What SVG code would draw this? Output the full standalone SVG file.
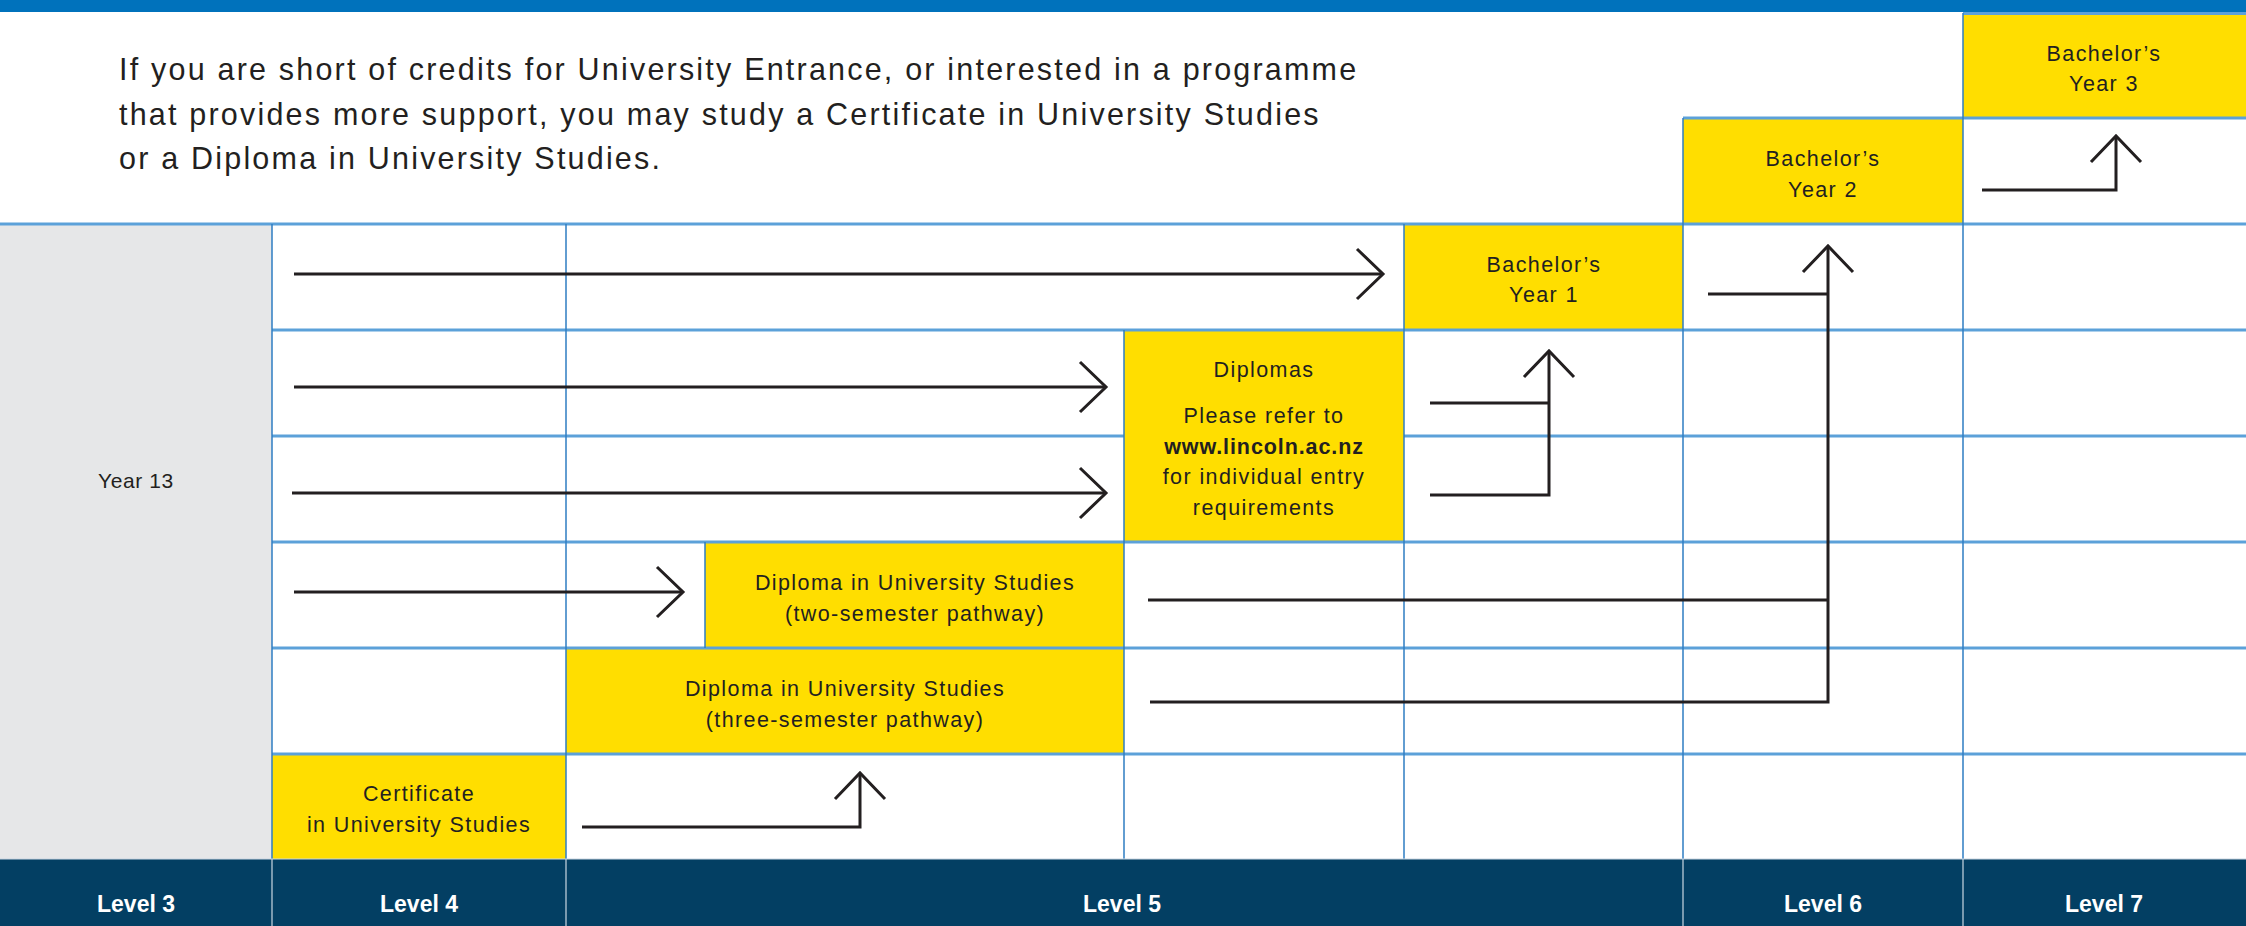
<svg xmlns="http://www.w3.org/2000/svg" width="2246" height="926" viewBox="0 0 2246 926">
<style>
.box{fill:#FFDE00}
.t{font-family:"Liberation Sans",Arial,sans-serif;font-size:21.5px;letter-spacing:1.4px;fill:#231F20;text-anchor:middle}
.b{font-weight:bold;letter-spacing:0.9px}
.intro{font-family:"Liberation Sans",Arial,sans-serif;font-size:30.5px;letter-spacing:2.2px;fill:#231F20}
.foot{font-family:"Liberation Sans",Arial,sans-serif;font-size:23px;font-weight:bold;fill:#FFFFFF;text-anchor:middle}
.hl{stroke:#5CA1D9;stroke-width:3;fill:none}
.vl{stroke:#2F7EC2;stroke-width:1.5;fill:none}
.fl{stroke:#C9D6E2;stroke-width:1.2;fill:none}
.c{stroke:#231F20;stroke-width:3;fill:none;marker-end:url(#chev)}
.cn{stroke:#231F20;stroke-width:3;fill:none}
</style>
<defs>
<marker id="chev" markerUnits="userSpaceOnUse" viewBox="-30 -30 60 60" markerWidth="60" markerHeight="60" refX="0" refY="0" orient="auto" overflow="visible">
<path d="M-26,-25 L0,0 L-26,25" fill="none" stroke="#231F20" stroke-width="3"/>
</marker>
</defs>
<rect x="0" y="0" width="2246" height="926" fill="#FFFFFF"/>
<rect x="0" y="0" width="2246" height="12" fill="#0072BC"/>
<rect x="0" y="224" width="272" height="635" fill="#E6E7E8"/>
<rect x="0" y="859" width="2246" height="67" fill="#033F63"/>

<g id="intro">
<text class="intro" x="119" y="80">If you are short of credits for University Entrance, or interested in a programme</text>
<text class="intro" x="119" y="125">that provides more support, you may study a Certificate in University Studies</text>
<text class="intro" x="119" y="169">or a Diploma in University Studies.</text>
</g>

<g id="year13">
<text class="t" x="136" y="488" style="font-size:21px;letter-spacing:0.6px">Year 13</text>
</g>

<g id="bachelor-y3">
<rect class="box" x="1963" y="13" width="283" height="105"/>
<text class="t" x="2104" y="61">Bachelor’s</text>
<text class="t" x="2104" y="91">Year 3</text>
</g>
<g id="bachelor-y2">
<rect class="box" x="1683" y="118" width="280" height="106"/>
<text class="t" x="1823" y="166">Bachelor’s</text>
<text class="t" x="1823" y="197">Year 2</text>
</g>
<g id="bachelor-y1">
<rect class="box" x="1404" y="224" width="279" height="106"/>
<text class="t" x="1544" y="272">Bachelor’s</text>
<text class="t" x="1544" y="302">Year 1</text>
</g>
<g id="diplomas">
<rect class="box" x="1124" y="330" width="280" height="212"/>
<text class="t" x="1264" y="377">Diplomas</text>
<text class="t" x="1264" y="423">Please refer to</text>
<text class="t b" x="1264" y="454">www.lincoln.ac.nz</text>
<text class="t" x="1264" y="484">for individual entry</text>
<text class="t" x="1264" y="515">requirements</text>
</g>
<g id="dus-two">
<rect class="box" x="705" y="542" width="419" height="106"/>
<text class="t" x="915" y="590">Diploma in University Studies</text>
<text class="t" x="915" y="621">(two-semester pathway)</text>
</g>
<g id="dus-three">
<rect class="box" x="566" y="648" width="558" height="106"/>
<text class="t" x="845" y="696">Diploma in University Studies</text>
<text class="t" x="845" y="727">(three-semester pathway)</text>
</g>
<g id="cert">
<rect class="box" x="272" y="754" width="294" height="105"/>
<text class="t" x="419" y="801">Certificate</text>
<text class="t" x="419" y="832">in University Studies</text>
</g>

<g id="grid">
<path class="hl" d="M1963,13.5 H2246 M1683,118 H2246 M0,224 H2246 M272,330 H2246 M272,436 H1124 M1404,436 H2246 M272,542 H2246 M272,648 H2246 M272,754 H2246"/>
<path class="vl" d="M272,224 V859 M566,224 V859 M705,542 V648 M1124,330 V859 M1404,224 V859 M1683,118 V859 M1963,13 V859"/>
<path class="fl" d="M0,859 H2246"/>
</g>

<g id="connectors">
<path class="c" d="M294,274 H1383"/>
<path class="c" d="M294,387 H1106"/>
<path class="c" d="M292,493 H1106"/>
<path class="c" d="M294,592 H683"/>
<path class="c" d="M1150,702 H1828 V246"/>
<path class="cn" d="M1148,600 H1828 M1708,294 H1828"/>
<path class="c" d="M1430,495 H1549 V351"/>
<path class="cn" d="M1430,403 H1549"/>
<path class="c" d="M1982,190 H2116 V136"/>
<path class="c" d="M582,827 H860 V773"/>
</g>

<g id="footer">
<path class="fl" d="M272,859 V926 M566,859 V926 M1683,859 V926 M1963,859 V926"/>
<text class="foot" x="136" y="912">Level 3</text>
<text class="foot" x="419" y="912">Level 4</text>
<text class="foot" x="1122" y="912">Level 5</text>
<text class="foot" x="1823" y="912">Level 6</text>
<text class="foot" x="2104" y="912">Level 7</text>
</g>
</svg>
